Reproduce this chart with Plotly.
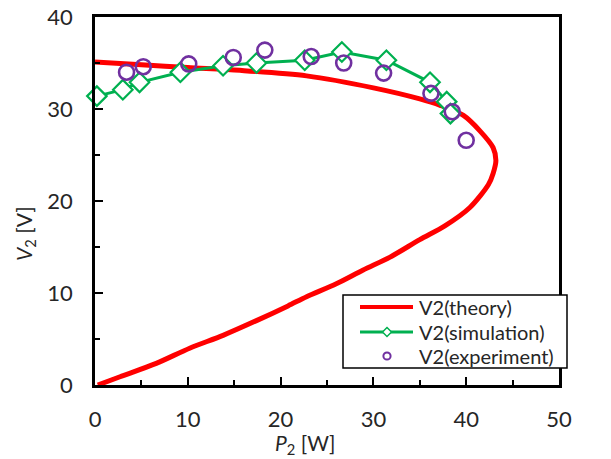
import plotly.graph_objects as go

# Theory curve (upper branch then lower branch)
theory_p = [0.0, 5.0, 10.0, 15.6, 22.8, 30.0, 35.0, 37.2, 39.7, 41.5, 42.9, 43.2,
            42.9, 42.4, 40.4, 37.7, 35.0, 31.8, 28.9, 26.0, 22.8, 20.8, 17.4, 13.8, 10.2, 6.6, 2.7, 0.3]
theory_v = [35.1, 34.8, 34.5, 34.2, 33.6, 32.3, 31.1, 30.4, 29.3, 27.6, 25.8, 24.4,
            23.0, 21.8, 19.3, 17.3, 15.8, 13.9, 12.5, 11.0, 9.6, 8.6, 7.0, 5.4, 4.0, 2.35, 0.9, 0.0]

sim_p = [0.2, 3.0, 4.8, 9.2, 13.8, 17.4, 22.6, 26.6, 31.4, 36.1, 37.9, 38.3]
sim_v = [31.4, 32.1, 32.9, 34.0, 34.7, 35.0, 35.3, 36.2, 35.3, 32.9, 30.8, 29.5]

exp_p = [3.4, 5.2, 10.1, 14.9, 18.3, 23.3, 26.8, 31.1, 36.2, 38.5, 40.0]
exp_v = [34.0, 34.6, 34.9, 35.6, 36.4, 35.7, 35.0, 33.9, 31.7, 29.7, 26.6]

x_ticks = [0, 10, 20, 30, 40, 50]
y_ticks = [0, 10, 20, 30, 40]

legend_names = ["V2(theory)", "V2(simulation)", "V2(experiment)"]

RED = "#FF0000"
GREEN = "#00B050"
PURPLE = "#7030A0"
FONT = "Lato"
TXT = "#262626"

# page body has an 8px margin, so figure is 603x451 placed at (8,8)
W, H = 603, 451
ML, MR, MT, MB = 87, 52, 9, 74
PW, PH = W - ML - MR, H - MT - MB


def fx(px):  # page pixel -> paper fraction
    return (px - 8 - ML) / PW


def fy(py):
    return (H + 8 - MB - py) / PH


fig = go.Figure()
fig.add_trace(go.Scatter(x=theory_p, y=theory_v, mode="lines",
                         line=dict(color=RED, width=5, shape="spline", smoothing=0.8),
                         showlegend=False, cliponaxis=True))
fig.add_trace(go.Scatter(x=sim_p, y=sim_v, mode="lines+markers", line=dict(color=GREEN, width=3),
                         marker=dict(symbol="diamond", size=15, color="white", line=dict(color=GREEN, width=2.2)),
                         showlegend=False, cliponaxis=False))
fig.add_trace(go.Scatter(x=exp_p, y=exp_v, mode="markers",
                         marker=dict(symbol="circle", size=15, color="rgba(255,255,255,0)",
                                     line=dict(color=PURPLE, width=2.6)),
                         showlegend=False, cliponaxis=False))

axis_common = dict(showgrid=False, zeroline=False, showline=True, linecolor="black", linewidth=2.5,
                   mirror=True, ticks="inside", ticklen=8, tickwidth=2, tickcolor="black", automargin=False,
                   ticklabeloverflow="allow",
                   tickfont=dict(family=FONT, size=22, color=TXT))
fig.update_xaxes(range=[0, 50], tickvals=x_ticks, ticktext=[str(v) for v in x_ticks],
                 minor=dict(ticks="inside", tickvals=[5, 15, 25, 35, 45], ticklen=5, tickwidth=2, tickcolor="black"),
                 ticklabelstandoff=13, **axis_common)
fig.update_yaxes(range=[0, 40], tickvals=y_ticks, ticktext=[str(v) for v in y_ticks],
                 minor=dict(ticks="inside", tickvals=[5, 15, 25, 35], ticklen=5, tickwidth=2, tickcolor="black"),
                 ticklabelstandoff=15, **axis_common)

# manual legend
shapes = [
    dict(type="rect", xref="paper", yref="paper", x0=fx(343), x1=fx(567), y0=fy(368), y1=fy(295),
         line=dict(color="black", width=1.5), fillcolor="white", layer="above"),
    dict(type="line", xref="paper", yref="paper", x0=fx(360), x1=fx(413), y0=fy(307), y1=fy(307),
         line=dict(color=RED, width=4), layer="above"),
    dict(type="line", xref="paper", yref="paper", x0=fx(360), x1=fx(413), y0=fy(332), y1=fy(332),
         line=dict(color=GREEN, width=3), layer="above"),
]
cx, cy, r = 387, 332, 4.5
shapes.append(dict(type="path", xref="paper", yref="paper", layer="above",
                   path=f"M{fx(cx - r)},{fy(cy)} L{fx(cx)},{fy(cy - r)} L{fx(cx + r)},{fy(cy)} L{fx(cx)},{fy(cy + r)} Z",
                   line=dict(color=GREEN, width=1.5), fillcolor="white"))
cy2, r2 = 356, 3.6
shapes.append(dict(type="circle", xref="paper", yref="paper", layer="above",
                   x0=fx(cx - r2), x1=fx(cx + r2), y0=fy(cy2 + r2), y1=fy(cy2 - r2),
                   line=dict(color=PURPLE, width=2), fillcolor="white"))

annotations = [
    dict(text="<i>P</i><sub>2</sub> [W]", x=fx(305), y=fy(444), xref="paper", yref="paper",
         xanchor="center", yanchor="middle", showarrow=False, font=dict(family=FONT, size=21, color=TXT)),
    dict(text="<i>V</i><sub>2</sub> [V]", x=fx(25), y=fy(234), xref="paper", yref="paper",
         xanchor="center", yanchor="middle", showarrow=False, textangle=-90,
         font=dict(family=FONT, size=21, color=TXT)),
]
for name, ry in zip(legend_names, [307, 332, 356]):
    annotations.append(dict(text=name, x=fx(417), y=fy(ry), xref="paper", yref="paper",
                            xanchor="left", yanchor="middle", showarrow=False,
                            font=dict(family=FONT, size=20, color=TXT)))

fig.update_layout(
    width=W, height=H,
    margin=dict(l=ML, r=MR, t=MT, b=MB, autoexpand=False),
    paper_bgcolor="white", plot_bgcolor="white",
    showlegend=False,
    shapes=shapes,
    annotations=annotations,
)

fig.write_html("out.html")
